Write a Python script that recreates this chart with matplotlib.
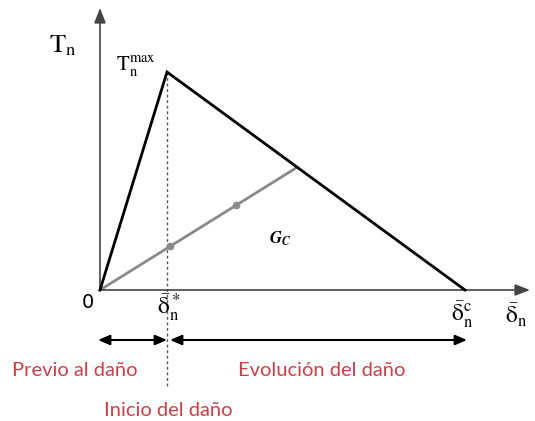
import matplotlib
matplotlib.use("Agg")
import matplotlib.pyplot as plt

plt.rcParams["mathtext.fontset"] = "stix"

# traction-separation law (diagram units, origin at 0,0)
law_delta = [0, 67, 365]          # 0, delta*, delta_c
law_T = [0, 218, 0]               # 0, T_max, 0
unload_delta = [0, 196]           # unloading / reloading path
unload_T = [0, 122]
dot_delta = [70, 136]
dot_T = [43.6, 84.6]
red = "#c9404a"

fig = plt.figure(figsize=(5.35, 4.21), dpi=100)
ax = fig.add_axes([0, 0, 1, 1])
ax.set_xlim(-100, 435)
ax.set_ylim(-131, 290)
ax.axis("off")

# axes with arrows
ax.annotate("", xy=(0, 282), xytext=(0, 0),
            arrowprops=dict(arrowstyle="-|>,head_length=0.9,head_width=0.35",
                            color="#444444", lw=1.2, shrinkA=0, shrinkB=0))
ax.annotate("", xy=(430, 0), xytext=(0, 0),
            arrowprops=dict(arrowstyle="-|>,head_length=0.9,head_width=0.35",
                            color="#444444", lw=1.2, shrinkA=0, shrinkB=0))

# law
ax.plot(law_delta, law_T, color="black", lw=2.0, solid_joinstyle="miter", zorder=3)
ax.plot(unload_delta, unload_T, color="#8a8a8a", lw=2.0, zorder=2)
ax.plot(dot_delta, dot_T, "o", color="#8a8a8a", ms=4.5, zorder=2)

# dotted line at damage onset
ax.plot([law_delta[1], law_delta[1]], [law_T[1], -98], color="#555555",
        lw=1.0, ls=(0, (2, 2)), zorder=1)

# labels
ax.text(-37, 245, r"$\mathrm{T_n}$", fontsize=19, ha="center", va="center")
ax.text(36, 224, r"$\mathrm{T_n^{max}}$", fontsize=15, ha="center", va="center")
ax.text(-12, -12, "0", fontsize=14, ha="center", va="center", family="DejaVu Sans")
ax.text(69, -18, r"$\bar{\mathrm{\delta}}_\mathrm{n}^*$", fontsize=17, ha="center", va="center")
ax.text(362, -25, r"$\bar{\mathrm{\delta}}_\mathrm{n}^\mathrm{c}$", fontsize=17, ha="center", va="center")
ax.text(416, -25, r"$\bar{\mathrm{\delta}}_\mathrm{n}$", fontsize=17, ha="center", va="center")
ax.text(180, 51, r"$\mathbfit{G_C}$", fontsize=12, ha="center", va="center")

# damage phases
ax.annotate("", xy=(-2, -50), xytext=(67, -50),
            arrowprops=dict(arrowstyle="<|-|>,head_length=0.7,head_width=0.3",
                            color="black", lw=1.5, shrinkA=0, shrinkB=0))
ax.annotate("", xy=(70, -50), xytext=(367, -50),
            arrowprops=dict(arrowstyle="<|-|>,head_length=0.7,head_width=0.3",
                            color="black", lw=1.5, shrinkA=0, shrinkB=0))

ax.text(-25, -80, "Previo al daño", color=red, fontsize=14.5, ha="center",
        va="center", family="Lato")
ax.text(222, -80, "Evolución del daño", color=red, fontsize=14.5, ha="center",
        va="center", family="Lato")
ax.text(68, -120, "Inicio del daño", color=red, fontsize=14.5, ha="center",
        va="center", family="Lato")

fig.savefig("out.png", dpi=100, facecolor="white")
